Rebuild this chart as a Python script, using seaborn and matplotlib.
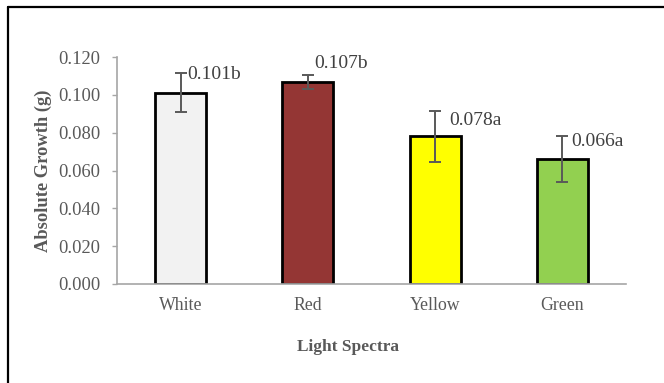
import matplotlib
matplotlib.use("Agg")
import matplotlib.pyplot as plt
import seaborn as sns
import pandas as pd
from matplotlib.lines import Line2D

categories = ["White", "Red", "Yellow", "Green"]
means = [0.101, 0.107, 0.078, 0.066]
errors = [0.0103, 0.0037, 0.0135, 0.012]
letters = ["b", "b", "a", "a"]
colors = ["#f2f2f2", "#943634", "#ffff00", "#92d050"]
yticks = [0.0, 0.02, 0.04, 0.06, 0.08, 0.10, 0.12]

# label placement offsets (style, not data)
label_dx = [0.055, 0.05, 0.11, 0.07]
label_dy = [-0.0005, 0.006, -0.005, -0.0026]

sns.set_style("white")
plt.rcParams["font.family"] = ["Liberation Serif", "DejaVu Serif"]

df = pd.DataFrame({"cat": categories, "val": means})

fig = plt.figure(figsize=(6.64, 3.83), dpi=100)
ax = fig.add_axes([117/664, 1-284/383, (626-117)/664, (284-57)/383])

sns.barplot(data=df, x="cat", y="val", hue="cat", palette=colors, legend=False,
            width=0.4, edgecolor="black", linewidth=2.0, ax=ax, errorbar=None,
            saturation=1, zorder=2)

xs = [p.get_x() + p.get_width()/2 for p in ax.patches]
ax.errorbar(xs, means, yerr=errors, fmt="none", ecolor="#595959", elinewidth=1.4,
            capsize=4, capthick=1.4, zorder=3)

for i, (x, m, e, l) in enumerate(zip(xs, means, errors, letters)):
    ax.text(x + label_dx[i], m + e + label_dy[i], f"{m:.3f}{l}", ha="left", va="center",
            fontsize=14, color="#404040")

ax.set_ylim(0, 0.12)
ax.set_xlim(-0.5, 3.5)
ax.set_yticks(yticks)
ax.set_yticklabels([f"{v:.3f}" for v in yticks])
ax.tick_params(axis="y", which="major", left=True, length=3.6, width=1.0,
               color="#a6a6a6", labelsize=13.3, labelcolor="#595959", pad=8.6)
ax.tick_params(axis="x", length=0, labelsize=12.8, labelcolor="#595959", pad=9)

for s in ["top", "right"]:
    ax.spines[s].set_visible(False)
for s in ["left", "bottom"]:
    ax.spines[s].set_color("#a6a6a6")
    ax.spines[s].set_linewidth(1.2)

ax.set_xlabel("")
ax.set_ylabel("Absolute Growth (g)", fontsize=13.3, fontweight="bold", color="#595959")
ax.yaxis.set_label_coords(-0.128, 0.5)
fig.text(348/664, 1-347/383, "Light Spectra", ha="center", va="center",
         fontsize=12.5, fontweight="bold", color="#595959")

# chart border (top and left visible)
fig.add_artist(Line2D([8/664, 8/664], [0, 1-7/383], transform=fig.transFigure,
                      color="black", linewidth=1.6))
fig.add_artist(Line2D([8/664, 1], [1-7/383, 1-7/383], transform=fig.transFigure,
                      color="black", linewidth=1.6))

fig.savefig("out.png", dpi=100)
